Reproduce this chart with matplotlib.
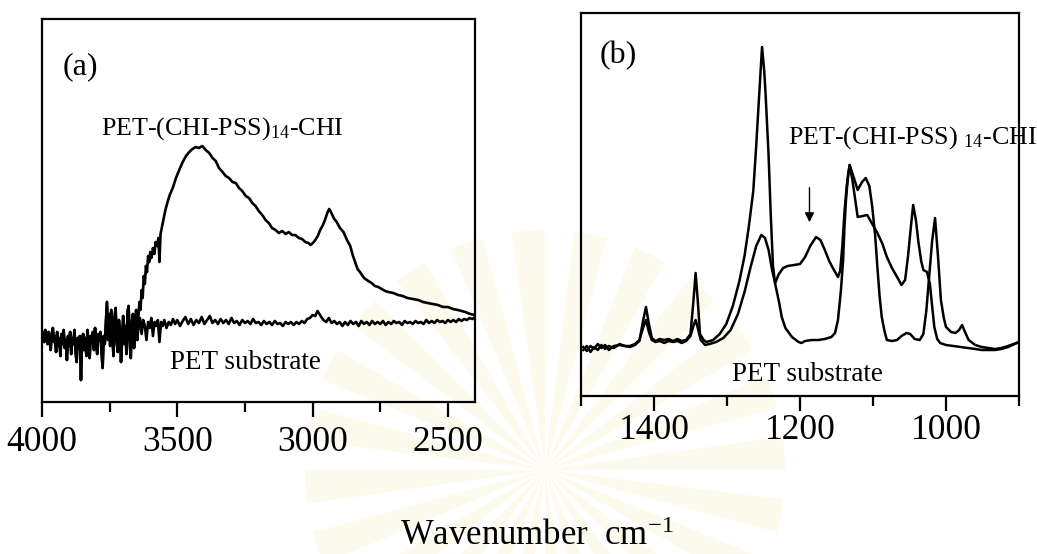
import numpy as np
import matplotlib
matplotlib.use("Agg")
import matplotlib.pyplot as plt
from matplotlib.patches import Wedge
from matplotlib.transforms import IdentityTransform

plt.rcParams['font.family'] = ['Liberation Serif', 'DejaVu Serif']
plt.rcParams['mathtext.fontset'] = 'custom'
plt.rcParams['mathtext.rm'] = 'Liberation Serif'
plt.rcParams['mathtext.it'] = 'Liberation Serif:italic'

# ---- (a) O-H / C-H stretching region, 4000-2400 cm-1 ----
# noisy water-vapour region, common to both spectra
noise_wn = [4000, 3996, 3992, 3988, 3984, 3980, 3976, 3972, 3968, 3964,
            3960, 3956, 3952, 3948, 3944, 3940, 3936, 3932, 3928, 3924,
            3920, 3916, 3912, 3908, 3904, 3900, 3896, 3892, 3888, 3884,
            3880, 3876, 3872, 3868, 3864, 3860, 3856, 3852, 3848, 3844,
            3840, 3836, 3832, 3828, 3824, 3820, 3816, 3812, 3808, 3804,
            3800, 3796, 3792, 3788, 3784, 3780, 3776, 3772, 3768, 3764,
            3760, 3756, 3752, 3748, 3744, 3740, 3736, 3732, 3728, 3724,
            3720, 3716, 3712, 3708, 3704, 3700, 3696, 3692, 3688, 3684,
            3680, 3676, 3672, 3668, 3664, 3660, 3656, 3652, 3648]
noise_abs = [64, 70, 60, 72, 66, 58, 70, 62, 52, 68,
             74, 60, 66, 50, 70, 56, 64, 46, 68, 58,
             72, 54, 62, 42, 66, 56, 70, 48, 64, 58,
             72, 50, 40, 64, 56, 66, 22, 60, 68, 52,
             64, 46, 72, 58, 44, 66, 60, 70, 52, 74,
             60, 48, 68, 62, 70, 50, 34, 66, 58, 80,
             100, 62, 88, 56, 92, 70, 46, 84, 94, 60,
             50, 82, 72, 40, 64, 86, 58, 76, 48, 90,
             96, 60, 44, 80, 88, 54, 70, 92, 62]

coated_a_wn = [3644, 3640, 3636, 3632, 3628, 3624, 3620, 3616, 3612, 3608,
               3604, 3600, 3596, 3590, 3585, 3580, 3574, 3570, 3566, 3562,
               3556, 3550, 3544, 3536, 3528, 3517, 3505, 3493, 3480, 3468,
               3456, 3444, 3432, 3420, 3408, 3395, 3382, 3370, 3358, 3346,
               3333, 3321, 3309, 3296, 3284, 3272, 3260, 3247, 3235, 3223,
               3211, 3199, 3186, 3174, 3162, 3150, 3137, 3125, 3112, 3100,
               3088, 3076, 3064, 3051, 3039, 3027, 3015, 3008, 2999, 2990,
               2981, 2972, 2962, 2953, 2946, 2939, 2934, 2929, 2920, 2911,
               2899, 2886, 2873, 2861, 2852, 2843, 2834, 2825, 2810, 2794,
               2782, 2770, 2757, 2745, 2732, 2720, 2702, 2684, 2667, 2650,
               2630, 2610, 2592, 2575, 2556, 2537, 2518, 2500, 2482, 2463,
               2450, 2436, 2418, 2400]
coated_a_abs = [84, 100, 92, 112, 104, 126, 118, 136, 130, 146,
                140, 150, 144, 154, 148, 160, 156, 164, 140, 168,
                176, 184, 192, 200, 207, 214, 224, 232, 240, 246,
                250, 253, 255, 254, 256, 252, 249, 244, 241, 234,
                230, 226, 224, 220, 219, 214, 211, 206, 204, 199,
                196, 191, 187, 182, 179, 174, 172, 169, 171, 168,
                170, 167, 167, 164, 163, 160, 159, 157, 159, 162,
                166, 172, 177, 183, 189, 193, 191, 188, 183, 180,
                174, 170, 162, 156, 147, 140, 133, 130, 124, 121,
                119, 116, 115, 113, 111, 110, 109, 107, 106, 104,
                103, 102, 100, 99, 98, 97, 95, 95, 93, 92,
                91, 90, 88, 87]

substrate_a_wn = [3644, 3638, 3632, 3626, 3620, 3614, 3608, 3602, 3596, 3590,
                  3584, 3578, 3572, 3566, 3560, 3554, 3548, 3540, 3532, 3524,
                  3516, 3508, 3500, 3490, 3480, 3470, 3460, 3450, 3440, 3430,
                  3420, 3410, 3400, 3390, 3380, 3370, 3360, 3350, 3340, 3330,
                  3320, 3310, 3300, 3290, 3280, 3270, 3260, 3250, 3240, 3230,
                  3220, 3210, 3200, 3190, 3180, 3170, 3160, 3150, 3140, 3130,
                  3120, 3110, 3100, 3090, 3080, 3070, 3060, 3050, 3040, 3030,
                  3020, 3010, 3000, 2990, 2982, 2975, 2968, 2960, 2950, 2940,
                  2930, 2920, 2910, 2900, 2890, 2880, 2870, 2860, 2850, 2840,
                  2830, 2820, 2810, 2800, 2790, 2780, 2770, 2760, 2750, 2740,
                  2730, 2720, 2710, 2700, 2690, 2680, 2670, 2660, 2650, 2640,
                  2630, 2620, 2610, 2600, 2590, 2580, 2570, 2560, 2550, 2540,
                  2530, 2520, 2510, 2500, 2490, 2480, 2470, 2460, 2450, 2440,
                  2430, 2420, 2410, 2400]
substrate_a_abs = [74, 84, 68, 82, 76, 62, 80, 74, 84, 66,
                   80, 76, 82, 60, 80, 76, 82, 74, 80, 77,
                   83, 78, 82, 76, 81, 85, 78, 83, 77, 82,
                   79, 85, 78, 82, 86, 79, 82, 78, 83, 79,
                   82, 78, 84, 79, 81, 77, 82, 79, 81, 78,
                   83, 79, 80, 77, 81, 78, 80, 77, 81, 78,
                   79, 76, 80, 78, 80, 77, 80, 78, 81, 79,
                   83, 84, 87, 86, 91, 88, 85, 82, 80, 84,
                   79, 81, 78, 80, 76, 80, 77, 81, 78, 80,
                   76, 81, 78, 80, 77, 81, 78, 80, 78, 81,
                   77, 80, 78, 81, 79, 80, 77, 81, 79, 80,
                   78, 81, 79, 80, 78, 82, 79, 81, 79, 82,
                   80, 81, 79, 82, 80, 82, 80, 83, 81, 83,
                   82, 84, 83, 85]

# ---- (b) fingerprint region, 1500-900 cm-1 ----
substrate_b_wn = [1497, 1492, 1487, 1482, 1477, 1472, 1467, 1462, 1455, 1447,
                  1440, 1433, 1426, 1420, 1415, 1411, 1407, 1403, 1398, 1392,
                  1386, 1380, 1374, 1368, 1362, 1356, 1350, 1346, 1343, 1340,
                  1337, 1332, 1328, 1319, 1310, 1301, 1292, 1283, 1276, 1270,
                  1264, 1260, 1256, 1252, 1249, 1247, 1243, 1240, 1237, 1234,
                  1229, 1225, 1220, 1211, 1202, 1198, 1193, 1184, 1175, 1166,
                  1157, 1152, 1148, 1144, 1141, 1139, 1137, 1134, 1132, 1127,
                  1121, 1115, 1110, 1105, 1101, 1097, 1094, 1091, 1088, 1084,
                  1081, 1074, 1067, 1061, 1054, 1049, 1043, 1036, 1031, 1027,
                  1023, 1019, 1015, 1011, 1007, 1003, 1000, 993, 987, 982,
                  978, 974, 969, 960, 951, 942, 933, 924, 915, 900]
substrate_b_abs = [49, 45, 50, 47, 52, 48, 51, 46, 50, 51,
                   50, 49, 51, 55, 75, 89, 72, 58, 55, 57,
                   56, 57, 55, 57, 55, 56, 62, 95, 123, 95,
                   62, 56, 54, 56, 62, 72, 90, 115, 140, 170,
                   205, 250, 300, 349, 325, 300, 240, 180, 130, 112,
                   95, 79, 68, 59, 54, 53, 55, 56, 56, 57,
                   59, 63, 76, 105, 135, 170, 196, 222, 231, 220,
                   206, 214, 218, 210, 189, 160, 129, 100, 79, 64,
                   56, 55, 56, 60, 63, 62, 57, 56, 62, 85,
                   120, 155, 178, 140, 96, 78, 69, 64, 63, 66,
                   71, 64, 56, 51, 49, 48, 47, 48, 50, 54]

coated_b_wn = [1497, 1492, 1487, 1482, 1477, 1472, 1467, 1462, 1455, 1447,
               1440, 1433, 1426, 1420, 1415, 1411, 1407, 1403, 1398, 1392,
               1386, 1380, 1374, 1368, 1362, 1356, 1350, 1346, 1343, 1340,
               1336, 1330, 1324, 1315, 1305, 1295, 1285, 1276, 1268, 1260,
               1253, 1248, 1243, 1238, 1234, 1229, 1223, 1217, 1208, 1200,
               1193, 1186, 1178, 1172, 1166, 1160, 1155, 1148, 1145, 1142,
               1139, 1136, 1132, 1128, 1121, 1114, 1108, 1101, 1094, 1087,
               1081, 1074, 1067, 1061, 1056, 1052, 1048, 1045, 1041, 1038,
               1034, 1031, 1026, 1022, 1019, 1016, 1012, 1008, 1000, 990,
               980, 970, 960, 951, 942, 933, 924, 915, 900]
coated_b_abs = [46, 50, 44, 49, 46, 51, 47, 50, 48, 52,
                50, 50, 52, 56, 68, 76, 64, 56, 54, 55,
                53, 55, 54, 55, 53, 55, 60, 70, 76, 68,
                56, 51, 52, 54, 58, 66, 82, 104, 128, 150,
                161, 158, 146, 125, 113, 122, 128, 130, 131, 132,
                139, 150, 159, 156, 146, 135, 128, 119, 125, 150,
                185, 210, 231, 215, 179, 180, 181, 172, 163, 152,
                139, 128, 119, 111, 116, 140, 170, 191, 175, 155,
                135, 126, 124, 112, 90, 69, 57, 53, 51, 50,
                49, 48, 47, 46, 46, 46, 47, 49, 54]

arrow_wn = 1187
arrow_top, arrow_tip = 211, 171

fig = plt.figure(figsize=(10.37, 5.54), dpi=100)

# faint sunburst stamp in the background
for i in range(24):
    fig.patches.append(Wedge((545, 84), 240, i * 15, i * 15 + 8,
                             transform=IdentityTransform(),
                             facecolor='#f3e2a6', edgecolor='none',
                             alpha=0.2, zorder=-10))

ax_a = fig.add_axes([42 / 1037, 152 / 554, 433 / 1037, 383 / 554])
ax_b = fig.add_axes([581 / 1037, 158 / 554, 438 / 1037, 383 / 554])

lw = 1.9
ax_a.plot(noise_wn + coated_a_wn, noise_abs + coated_a_abs, color='black', lw=lw)
ax_a.plot(noise_wn + substrate_a_wn, noise_abs + substrate_a_abs, color='black', lw=lw)
ax_b.plot(substrate_b_wn, substrate_b_abs, color='black', lw=1.8)
ax_b.plot(coated_b_wn, coated_b_abs, color='black', lw=1.8)

ax_a.set_xlim(4000, 2400)
ax_b.set_xlim(1500, 900)
for ax in (ax_a, ax_b):
    ax.set_facecolor('none')
    ax.set_ylim(0, 383)
    ax.set_yticks([])
    for sp in ax.spines.values():
        sp.set_linewidth(1.6)
    ax.tick_params(axis='x', which='major', direction='out', length=11,
                   width=1.6, labelsize=25.5)
    ax.tick_params(axis='x', which='minor', direction='out', length=7, width=1.6)
ax_a.tick_params(axis='x', which='major', pad=6)
ax_b.tick_params(axis='x', which='major', pad=2)

ax_a.set_xticks([4000, 3500, 3000, 2500])
ax_a.set_xticks([3750, 3250, 2750], minor=True)
ax_b.set_xticks([1400, 1200, 1000])
ax_b.set_xticks([1500, 1300, 1100, 900], minor=True)

# panel texts
ax_a.text(0.088, 0.875, '(a)', transform=ax_a.transAxes, fontsize=23,
          ha='center', va='center')
ax_a.text(0.416, 0.715, 'PET-(CHI-PSS)$_{14}$-CHI', transform=ax_a.transAxes,
          fontsize=18.7, ha='center', va='center')
ax_a.text(0.469, 0.104, 'PET substrate', transform=ax_a.transAxes,
          fontsize=19.5, ha='center', va='center')

ax_b.text(0.084, 0.89, '(b)', transform=ax_b.transAxes, fontsize=23,
          ha='center', va='center')
ax_b.text(0.473, 0.676, 'PET-(CHI-PSS) $_{14}$-CHI', transform=ax_b.transAxes,
          fontsize=18.7, ha='left', va='center', clip_on=False, zorder=1)
ax_b.text(0.516, 0.055, 'PET substrate', transform=ax_b.transAxes,
          fontsize=19.5, ha='center', va='center')
ax_b.annotate('', xy=(arrow_wn, arrow_tip), xytext=(arrow_wn, arrow_top),
              arrowprops=dict(arrowstyle='-|>', color='black', lw=1.0,
                              mutation_scale=14))

fig.text(0.518, 0.031, 'Wavenumber  cm$^{-1}$', fontsize=25, ha='center',
         va='center')

fig.savefig('out.png', dpi=100)
